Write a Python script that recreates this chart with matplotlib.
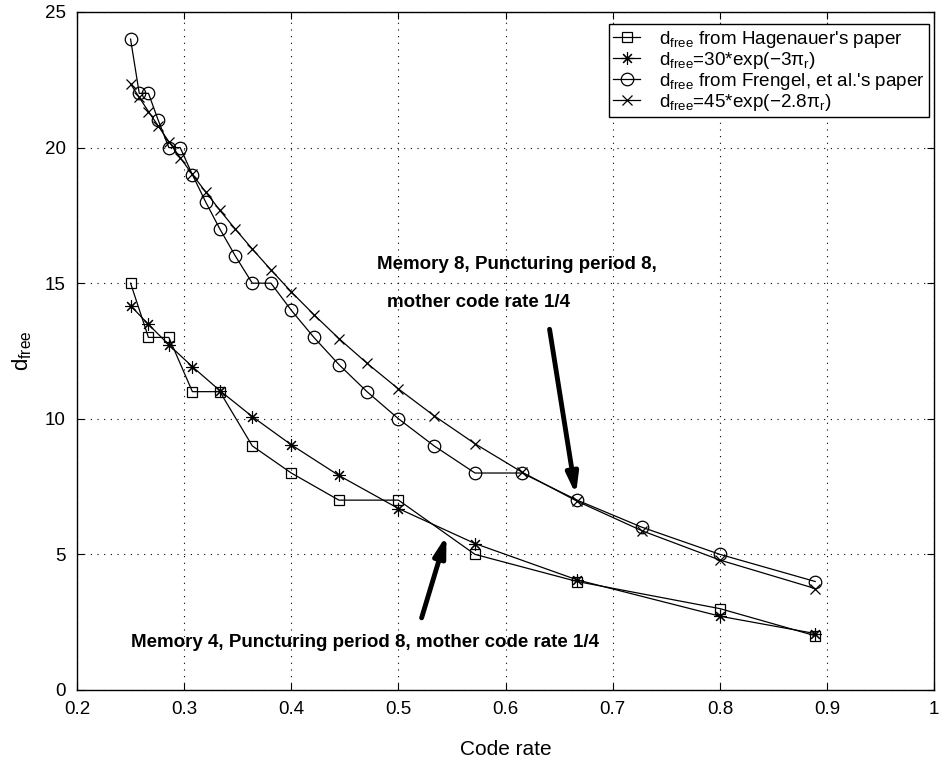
import matplotlib
matplotlib.use("Agg")
import matplotlib.pyplot as plt

plt.rcParams['font.family'] = ['Liberation Sans', 'DejaVu Sans']
plt.rcParams['mathtext.fontset'] = 'custom'
plt.rcParams['mathtext.rm'] = 'Liberation Sans'
plt.rcParams['mathtext.it'] = 'Liberation Sans'
plt.rcParams['mathtext.bf'] = 'Liberation Sans:bold'

# Memory 4 code (Hagenauer) and its exponential fit
rate_m4 = [0.25, 0.2667, 0.2857, 0.3077, 0.3333, 0.3636, 0.4, 0.4444,
           0.5, 0.5714, 0.6667, 0.8, 0.8889]
dfree_hag = [15, 13, 13, 11, 11, 9, 8, 7, 7, 5, 4, 3, 2]
dfree_fit30 = [14.17, 13.48, 12.73, 11.92, 11.04, 10.08, 9.04, 7.91,
               6.69, 5.40, 4.06, 2.72, 2.08]

# Memory 8 code (Frengel et al.) and its exponential fit
rate_m8 = [0.25, 0.2581, 0.2667, 0.2759, 0.2857, 0.2963, 0.3077, 0.32,
           0.3333, 0.3478, 0.3636, 0.381, 0.4, 0.4211, 0.4444, 0.4706,
           0.5, 0.5333, 0.5714, 0.6154, 0.6667, 0.7273, 0.8, 0.8889]
dfree_fre = [24, 22, 22, 21, 20, 20, 19, 18, 17, 16, 15, 15, 14, 13, 12,
             11, 10, 9, 8, 8, 7, 6, 5, 4]
dfree_fit45 = [22.35, 21.85, 21.33, 20.79, 20.22, 19.63, 19.01, 18.37,
               17.69, 16.99, 16.26, 15.49, 14.68, 13.84, 12.96, 12.05,
               11.10, 10.11, 9.08, 8.03, 6.96, 5.87, 4.79, 3.74]

labels = [r"d$_{\mathrm{free}}$ from Hagenauer's paper",
          r"d$_{\mathrm{free}}$=30*exp($-$3$\pi_{\mathrm{r}}$)",
          r"d$_{\mathrm{free}}$ from Frengel, et al.'s paper",
          r"d$_{\mathrm{free}}$=45*exp($-$2.8$\pi_{\mathrm{r}}$)"]

fig = plt.figure(figsize=(9.4, 7.63), dpi=100)
ax = fig.add_axes([0.0819, 0.0957, 0.9120, 0.8886])

lw = 0.9
ax.plot(rate_m4, dfree_hag, color='k', lw=lw, marker='s', ms=7,
        mfc='none', mew=0.9, label=labels[0])
ax.plot(rate_m4, dfree_fit30, color='k', lw=lw, marker=(8, 2, 0), ms=9,
        mew=0.8, label=labels[1])
ax.plot(rate_m8, dfree_fre, color='k', lw=lw, marker='o', ms=9,
        mfc='none', mew=0.9, label=labels[2])
ax.plot(rate_m8, dfree_fit45, color='k', lw=lw, marker='x', ms=7,
        mew=0.9, label=labels[3])

ax.set_xlim(0.2, 1.0)
ax.set_ylim(0, 25)
ax.set_xticks([0.2, 0.3, 0.4, 0.5, 0.6, 0.7, 0.8, 0.9, 1.0])
ax.set_xticklabels(['0.2', '0.3', '0.4', '0.5', '0.6', '0.7', '0.8', '0.9', '1'])
ax.set_yticks([0, 5, 10, 15, 20, 25])
ax.tick_params(direction='in', top=True, right=True, labelsize=13.5,
               length=5, width=0.8, pad=8)
ax.grid(True, color='k', linestyle=(0, (1, 5)), linewidth=0.8)
for s in ax.spines.values():
    s.set_linewidth(1.0)

ax.set_xlabel('Code rate', fontsize=15, labelpad=16)
ax.set_ylabel(r'd$_{\mathrm{free}}$', fontsize=16, labelpad=8)

leg = ax.legend(loc='upper right', bbox_to_anchor=(0.9985, 0.988),
                fontsize=13.6, handlelength=1.4, handletextpad=1.0,
                borderpad=0.25, labelspacing=0.0, fancybox=False,
                framealpha=1, edgecolor='k', borderaxespad=0.2)
leg.get_frame().set_linewidth(1.0)

# annotations for the two code families
ax.text(0.480, 15.7, 'Memory 8, Puncturing period 8,', fontsize=13.5,
        fontweight='bold', va='center', ha='left')
ax.text(0.489, 14.3, 'mother code rate 1/4', fontsize=13.5,
        fontweight='bold', va='center', ha='left')
ax.annotate('', xy=(0.6656, 7.2), xytext=(0.641, 13.3),
            arrowprops=dict(arrowstyle='-|>,head_length=1.2,head_width=0.35',
                            color='k', lw=3.5, shrinkA=0, shrinkB=0))

ax.text(0.250, 1.74, 'Memory 4, Puncturing period 8, mother code rate 1/4',
        fontsize=13.5, fontweight='bold', va='center', ha='left')
ax.annotate('', xy=(0.5448, 5.7), xytext=(0.5216, 2.66),
            arrowprops=dict(arrowstyle='-|>,head_length=1.2,head_width=0.35',
                            color='k', lw=3.5, shrinkA=0, shrinkB=0))

fig.savefig('out.png', dpi=100)
